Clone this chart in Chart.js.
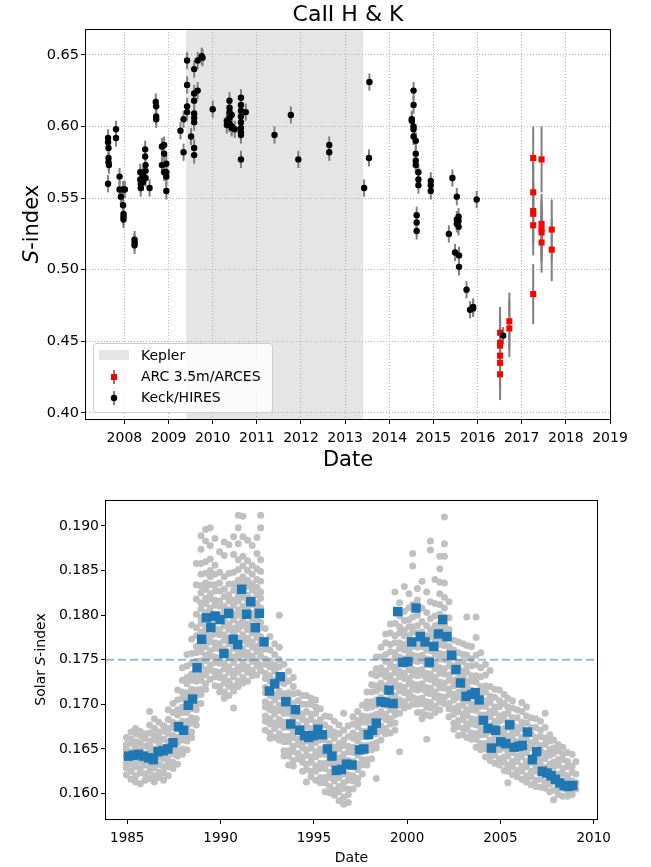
<!DOCTYPE html>
<html>
<head>
<meta charset="utf-8">
<script src="https://cdn.jsdelivr.net/npm/chart.js@4.4.1/dist/chart.umd.min.js"></script>
<style>
  body { margin: 0; background: #fff; }
  canvas { position: absolute; left: 0; }
  #hk { top: 0; }
  #solar { top: 480px; }
</style>
</head>
<body>
<canvas id="hk" width="651" height="480"></canvas>
<canvas id="solar" width="651" height="387"></canvas>
<script>
// ---- top panel: Ca II H & K of the star ----
const keplerSpan = [2009.40, 2013.41];

const keckDates = [
  2007.63, 2007.63, 2007.64, 2007.64, 2007.64, 2007.65, 2007.63,
  2007.81, 2007.81, 2007.89, 2007.89, 2007.92,
  2007.97, 2007.97, 2007.98, 2007.98, 2007.98, 2008.01,
  2008.23, 2008.23, 2008.23,
  2008.36, 2008.36, 2008.37, 2008.37, 2008.42, 2008.42,
  2008.47, 2008.47, 2008.48, 2008.48, 2008.48, 2008.57,
  2008.71, 2008.72, 2008.72, 2008.72,
  2008.85, 2008.85, 2008.90, 2008.90, 2008.90,
  2008.95, 2008.95, 2008.95, 2008.95,
  2009.27, 2009.34, 2009.34,
  2009.42, 2009.42, 2009.42, 2009.42, 2009.51,
  2009.58, 2009.58, 2009.58, 2009.58, 2009.58, 2009.58, 2009.58, 2009.58,
  2009.66, 2009.66, 2009.75, 2009.77, 2010.00,
  2010.32, 2010.32, 2010.38, 2010.38, 2010.38, 2010.38, 2010.38,
  2010.43, 2010.43, 2010.43, 2010.50,
  2010.64, 2010.64, 2010.64, 2010.64, 2010.64, 2010.64, 2010.64, 2010.64, 2010.64,
  2010.75, 2011.40, 2011.77, 2011.94, 2012.64, 2012.64,
  2013.43, 2013.54, 2013.55,
  2014.51, 2014.51, 2014.55, 2014.55, 2014.55, 2014.55, 2014.55,
  2014.60, 2014.60, 2014.60, 2014.60, 2014.66, 2014.66, 2014.66,
  2014.62, 2014.62, 2014.62, 2014.94, 2014.94, 2014.94,
  2015.35, 2015.43, 2015.53, 2015.53, 2015.53, 2015.57, 2015.57, 2015.57,
  2015.49, 2015.58, 2015.58, 2015.75, 2015.83, 2015.90, 2015.90, 2015.98, 2016.58
];
const keckS = [
  0.592, 0.589, 0.585, 0.578, 0.575, 0.573, 0.560,
  0.598, 0.592, 0.565, 0.556, 0.551,
  0.556, 0.545, 0.539, 0.537, 0.535, 0.556,
  0.521, 0.519, 0.517,
  0.568, 0.563, 0.560, 0.557, 0.566, 0.561,
  0.584, 0.579, 0.573, 0.569, 0.564, 0.557,
  0.617, 0.614, 0.607, 0.605,
  0.586, 0.573, 0.587, 0.581, 0.568,
  0.574, 0.568, 0.565, 0.555,
  0.597, 0.605, 0.582,
  0.646, 0.629, 0.614, 0.610, 0.593,
  0.640, 0.623, 0.618, 0.609, 0.606, 0.603, 0.585, 0.580,
  0.646, 0.625, 0.649, 0.648, 0.612,
  0.604, 0.601, 0.618, 0.613, 0.610, 0.606, 0.602,
  0.608, 0.600, 0.599, 0.598,
  0.620, 0.615, 0.611, 0.607, 0.603, 0.599, 0.596, 0.594, 0.577,
  0.610, 0.594, 0.608, 0.577, 0.587, 0.582,
  0.557, 0.578, 0.631,
  0.605, 0.604, 0.625, 0.615, 0.600, 0.598, 0.593,
  0.590, 0.581, 0.576, 0.573, 0.568, 0.563, 0.559,
  0.538, 0.533, 0.527, 0.562, 0.559, 0.555,
  0.525, 0.564, 0.551, 0.535, 0.532, 0.537, 0.534, 0.530,
  0.512, 0.510, 0.502, 0.486, 0.472, 0.474, 0.473, 0.549, 0.454
];
const keckErr = 0.006;

const arcesDates = [
  2016.51, 2016.51, 2016.51, 2016.51, 2016.51, 2016.51,
  2016.72, 2016.72,
  2017.26, 2017.26, 2017.26, 2017.26, 2017.26, 2017.26,
  2017.45, 2017.45, 2017.45, 2017.45, 2017.45,
  2017.68, 2017.68
];
const arcesS = [
  0.456, 0.449, 0.447, 0.440, 0.435, 0.427,
  0.464, 0.459,
  0.578, 0.554, 0.541, 0.539, 0.531, 0.483,
  0.577, 0.532, 0.528, 0.526, 0.519,
  0.528, 0.514
];
const arcesErr = [
  0.018, 0.018, 0.018, 0.018, 0.018, 0.018,
  0.020, 0.020,
  0.022, 0.021, 0.021, 0.021, 0.021, 0.021,
  0.023, 0.021, 0.021, 0.021, 0.021,
  0.021, 0.022
];

// ---- bottom panel: solar S-index ----
const solarMean = 0.175;

// measurements, grouped by epoch: [year, values]
const solarCloud = [
  [1984.95, [.1621, .1629, .1634, .1642, .1650, .1655, .1663]],
  [1985.20, [.1616, .1625, .1633, .1639, .1647, .1656, .1661, .1669]],
  [1985.45, [.1613, .1620, .1630, .1637, .1643, .1652, .1658, .1667, .1673]],
  [1985.70, [.1611, .1623, .1628, .1636, .1645, .1649, .1657, .1665, .1670]],
  [1985.95, [.1615, .1622, .1632, .1640, .1644, .1653, .1662, .1667]],
  [1986.20, [.1617, .1625, .1631, .1638, .1647, .1654, .1659, .1668, .1677, .1692]],
  [1986.45, [.1613, .1620, .1629, .1635, .1644, .1650, .1660, .1665, .1673, .1684]],
  [1986.70, [.1618, .1624, .1633, .1641, .1646, .1656, .1663, .1669, .1680]],
  [1986.95, [.1615, .1623, .1630, .1639, .1647, .1652, .1661, .1670, .1676]],
  [1987.20, [.1620, .1630, .1636, .1643, .1652, .1658, .1667, .1673, .1683, .1694]],
  [1987.45, [.1628, .1635, .1644, .1650, .1659, .1665, .1674, .1680, .1691, .1701]],
  [1987.70, [.1633, .1642, .1648, .1657, .1663, .1672, .1678, .1688, .1694, .1705, .1716]],
  [1987.95, [.1644, .1650, .1660, .1665, .1675, .1681, .1691, .1697, .1707, .1714, .1727, .1741]],
  [1988.20, [.1649, .1659, .1665, .1675, .1681, .1691, .1697, .1707, .1713, .1723, .1730, .1743, .1756]],
  [1988.45, [.1663, .1669, .1679, .1685, .1695, .1701, .1711, .1717, .1727, .1734, .1746, .1757, .1773, .1789]],
  [1988.70, [.1677, .1684, .1694, .1700, .1710, .1716, .1726, .1732, .1742, .1748, .1758, .1765, .1777, .1786, .1801, .1818, .1834, .1858]],
  [1988.95, [.1701, .1711, .1717, .1727, .1733, .1743, .1749, .1759, .1765, .1775, .1781, .1791, .1797, .1807, .1814, .1825, .1833, .1846, .1858, .1874, .1889]],
  [1989.20, [.1717, .1723, .1733, .1739, .1749, .1755, .1765, .1771, .1781, .1787, .1797, .1803, .1813, .1819, .1829, .1836, .1847, .1860, .1883, .1896]],
  [1989.45, [.1728, .1738, .1744, .1754, .1760, .1770, .1776, .1786, .1792, .1802, .1808, .1818, .1824, .1834, .1843, .1850, .1863, .1878, .1898]],
  [1989.70, [.1721, .1731, .1737, .1747, .1753, .1763, .1769, .1779, .1785, .1795, .1801, .1811, .1817, .1827, .1834, .1846, .1856, .1886]],
  [1989.95, [.1714, .1720, .1730, .1736, .1746, .1752, .1762, .1768, .1778, .1784, .1794, .1800, .1810, .1816, .1827, .1836, .1848, .1871]],
  [1990.20, [.1707, .1714, .1724, .1730, .1740, .1746, .1756, .1762, .1772, .1778, .1788, .1794, .1804, .1810, .1821, .1829, .1843, .1867, .1882]],
  [1990.45, [.1710, .1720, .1726, .1736, .1742, .1752, .1758, .1768, .1774, .1784, .1790, .1800, .1806, .1816, .1823, .1835, .1847, .1879]],
  [1990.70, [.1696, .1715, .1721, .1731, .1737, .1747, .1753, .1763, .1769, .1779, .1785, .1795, .1801, .1811, .1817, .1828, .1835, .1848, .1868, .1888]],
  [1990.95, [.1720, .1726, .1736, .1742, .1752, .1758, .1768, .1774, .1784, .1790, .1800, .1806, .1816, .1822, .1832, .1839, .1851, .1862, .1880, .1898, .1912]],
  [1991.20, [.1724, .1730, .1740, .1746, .1756, .1762, .1772, .1778, .1788, .1794, .1804, .1810, .1820, .1826, .1836, .1843, .1855, .1866, .1888, .1911]],
  [1991.45, [.1726, .1736, .1742, .1752, .1758, .1768, .1774, .1784, .1790, .1800, .1806, .1816, .1822, .1832, .1839, .1850, .1861, .1884]],
  [1991.70, [.1732, .1738, .1748, .1754, .1764, .1770, .1780, .1786, .1796, .1802, .1812, .1818, .1828, .1835, .1846, .1856, .1878]],
  [1991.95, [.1733, .1743, .1749, .1759, .1765, .1775, .1781, .1791, .1797, .1807, .1813, .1823, .1831, .1840, .1852, .1869, .1887]],
  [1992.15, [.1738, .1744, .1754, .1760, .1770, .1776, .1786, .1792, .1802, .1808, .1819, .1826, .1838, .1849, .1862, .1898, .1912]],
  [1992.40, [.1671, .1681, .1687, .1697, .1703, .1713, .1719, .1729, .1735, .1745, .1751, .1762, .1770, .1785]],
  [1992.65, [.1662, .1668, .1678, .1684, .1694, .1700, .1710, .1716, .1726, .1732, .1742, .1749, .1761, .1776]],
  [1992.90, [.1663, .1673, .1679, .1689, .1695, .1705, .1711, .1721, .1727, .1737, .1744, .1756, .1768]],
  [1993.15, [.1660, .1667, .1677, .1683, .1693, .1699, .1709, .1715, .1725, .1731, .1742, .1750, .1764, .1800]],
  [1993.40, [.1642, .1648, .1658, .1664, .1674, .1680, .1690, .1696, .1706, .1712, .1723, .1731, .1745]],
  [1993.65, [.1632, .1642, .1648, .1658, .1664, .1674, .1680, .1690, .1696, .1706, .1713, .1726, .1737]],
  [1993.90, [.1631, .1637, .1647, .1653, .1663, .1669, .1679, .1685, .1695, .1701, .1712, .1720, .1730]],
  [1994.15, [.1639, .1645, .1655, .1661, .1671, .1677, .1687, .1693, .1704, .1713]],
  [1994.40, [.1625, .1635, .1641, .1651, .1657, .1667, .1673, .1683, .1689, .1700, .1710]],
  [1994.60, [.1613, .1627, .1633, .1643, .1649, .1659, .1665, .1675, .1681, .1692, .1700, .1710]],
  [1994.85, [.1619, .1625, .1635, .1641, .1651, .1657, .1667, .1673, .1683, .1689, .1700, .1707]],
  [1995.10, [.1615, .1625, .1631, .1641, .1647, .1657, .1663, .1673, .1679, .1690, .1697, .1705]],
  [1995.35, [.1612, .1618, .1628, .1634, .1644, .1650, .1660, .1666, .1676, .1683, .1695]],
  [1995.60, [.1602, .1612, .1618, .1628, .1634, .1644, .1650, .1660, .1666, .1677, .1687]],
  [1995.85, [.1601, .1608, .1618, .1624, .1634, .1640, .1650, .1656, .1666, .1673, .1686]],
  [1996.10, [.1598, .1604, .1614, .1620, .1630, .1636, .1646, .1652, .1662, .1669, .1681]],
  [1996.35, [.1592, .1602, .1608, .1618, .1624, .1634, .1640, .1650, .1656, .1667, .1677]],
  [1996.60, [.1588, .1596, .1606, .1612, .1622, .1628, .1638, .1644, .1654, .1660, .1671, .1690]],
  [1996.85, [.1590, .1599, .1605, .1615, .1621, .1631, .1637, .1647, .1653, .1664, .1676]],
  [1997.10, [.1605, .1614, .1620, .1630, .1636, .1646, .1652, .1662, .1668, .1678, .1686]],
  [1997.35, [.1611, .1617, .1627, .1633, .1643, .1649, .1659, .1665, .1675, .1682, .1692]],
  [1997.60, [.1622, .1632, .1638, .1648, .1654, .1664, .1670, .1680, .1687, .1699]],
  [1997.85, [.1632, .1638, .1648, .1654, .1664, .1670, .1680, .1686, .1696, .1703, .1714]],
  [1998.10, [.1639, .1649, .1655, .1665, .1671, .1681, .1687, .1697, .1703, .1714, .1722, .1734]],
  [1998.35, [.1617, .1651, .1657, .1667, .1673, .1683, .1689, .1699, .1705, .1715, .1721, .1732, .1740, .1753]],
  [1998.60, [.1660, .1670, .1676, .1686, .1692, .1702, .1708, .1718, .1724, .1734, .1741, .1753, .1764]],
  [1998.85, [.1667, .1673, .1683, .1689, .1699, .1705, .1715, .1721, .1731, .1737, .1748, .1756, .1769, .1779]],
  [1999.10, [.1668, .1678, .1684, .1694, .1700, .1710, .1716, .1726, .1732, .1742, .1748, .1759, .1767, .1780, .1790]],
  [1999.35, [.1671, .1679, .1688, .1694, .1704, .1710, .1720, .1726, .1736, .1742, .1752, .1758, .1769, .1777, .1791, .1826]],
  [1999.60, [.1647, .1690, .1699, .1705, .1715, .1721, .1731, .1737, .1747, .1753, .1763, .1769, .1780, .1787, .1799, .1814]],
  [1999.85, [.1696, .1703, .1713, .1719, .1729, .1735, .1745, .1751, .1761, .1767, .1777, .1783, .1794, .1804, .1832]],
  [2000.10, [.1698, .1707, .1713, .1723, .1729, .1739, .1745, .1755, .1761, .1771, .1777, .1787, .1795, .1808, .1824]],
  [2000.30, [.1700, .1708, .1717, .1723, .1733, .1739, .1749, .1755, .1765, .1771, .1781, .1787, .1798, .1812, .1855, .1869]],
  [2000.55, [.1691, .1700, .1706, .1716, .1722, .1732, .1738, .1748, .1754, .1764, .1770, .1780, .1788, .1800, .1817, .1830]],
  [2000.80, [.1684, .1691, .1701, .1707, .1717, .1723, .1733, .1739, .1749, .1755, .1765, .1771, .1781, .1793, .1808, .1838]],
  [2001.05, [.1661, .1688, .1697, .1703, .1713, .1719, .1729, .1735, .1745, .1751, .1761, .1767, .1777, .1788, .1803, .1826]],
  [2001.25, [.1687, .1696, .1702, .1712, .1718, .1728, .1734, .1744, .1750, .1760, .1766, .1776, .1784, .1796, .1815, .1873, .1883]],
  [2001.50, [.1691, .1698, .1708, .1714, .1724, .1730, .1740, .1746, .1756, .1762, .1772, .1778, .1788, .1799, .1813, .1840]],
  [2001.75, [.1694, .1703, .1709, .1719, .1725, .1735, .1741, .1751, .1757, .1767, .1773, .1783, .1791, .1801, .1812, .1824, .1837, .1852, .1866]],
  [2002.00, [.1701, .1708, .1718, .1724, .1734, .1740, .1750, .1756, .1766, .1772, .1782, .1788, .1798, .1808, .1820, .1836, .1866, .1880, .1910]],
  [2002.25, [.1686, .1695, .1701, .1711, .1717, .1727, .1733, .1743, .1749, .1759, .1765, .1774, .1784, .1797, .1815]],
  [2002.50, [.1672, .1679, .1689, .1695, .1705, .1711, .1721, .1727, .1737, .1743, .1753, .1761, .1772]],
  [2002.75, [.1665, .1675, .1682, .1692, .1698, .1708, .1714, .1724, .1730, .1740, .1747, .1758, .1770]],
  [2003.00, [.1666, .1673, .1683, .1689, .1699, .1705, .1715, .1721, .1731, .1737, .1748, .1756, .1768]],
  [2003.20, [.1663, .1672, .1678, .1688, .1694, .1704, .1710, .1720, .1726, .1736, .1743, .1755, .1766, .1798]],
  [2003.45, [.1661, .1668, .1678, .1684, .1694, .1700, .1710, .1716, .1726, .1732, .1743, .1751, .1765]],
  [2003.70, [.1652, .1661, .1667, .1677, .1683, .1693, .1699, .1709, .1715, .1725, .1732, .1744, .1755, .1775, .1798]],
  [2003.95, [.1649, .1656, .1666, .1672, .1682, .1688, .1698, .1704, .1714, .1720, .1731, .1741, .1758]],
  [2004.20, [.1641, .1650, .1656, .1666, .1672, .1682, .1688, .1698, .1704, .1714, .1721, .1733, .1745]],
  [2004.45, [.1637, .1644, .1654, .1660, .1670, .1676, .1686, .1692, .1702, .1709, .1720, .1738]],
  [2004.70, [.1634, .1643, .1649, .1659, .1665, .1675, .1681, .1691, .1697, .1708, .1717]],
  [2004.95, [.1632, .1639, .1649, .1655, .1665, .1671, .1681, .1687, .1697, .1704, .1716]],
  [2005.20, [.1626, .1635, .1641, .1651, .1657, .1667, .1673, .1683, .1689, .1701, .1711]],
  [2005.40, [.1612, .1625, .1632, .1642, .1648, .1658, .1664, .1674, .1680, .1690, .1697, .1707]],
  [2005.65, [.1621, .1630, .1636, .1646, .1652, .1662, .1668, .1678, .1685, .1696, .1704]],
  [2005.90, [.1619, .1626, .1636, .1642, .1652, .1658, .1668, .1674, .1685, .1694]],
  [2006.15, [.1616, .1625, .1631, .1641, .1647, .1657, .1663, .1673, .1680, .1692, .1702]],
  [2006.40, [.1613, .1620, .1630, .1636, .1646, .1652, .1662, .1668, .1679, .1687, .1697]],
  [2006.65, [.1610, .1619, .1625, .1635, .1641, .1651, .1657, .1667, .1674, .1685]],
  [2006.90, [.1608, .1615, .1625, .1631, .1641, .1647, .1657, .1663, .1674, .1684]],
  [2007.15, [.1607, .1616, .1622, .1632, .1638, .1648, .1654, .1664, .1671, .1681]],
  [2007.40, [.1606, .1613, .1623, .1629, .1639, .1645, .1655, .1662, .1674, .1690]],
  [2007.65, [.1602, .1611, .1617, .1627, .1633, .1643, .1649, .1659, .1666]],
  [2007.85, [.1593, .1604, .1613, .1619, .1629, .1635, .1645, .1651, .1660]],
  [2008.10, [.1599, .1606, .1616, .1622, .1632, .1638, .1648, .1655]],
  [2008.35, [.1597, .1606, .1612, .1622, .1628, .1638, .1644, .1652]],
  [2008.60, [.1597, .1604, .1614, .1620, .1630, .1636, .1646]],
  [2008.85, [.1599, .1608, .1614, .1624, .1631, .1644]],
  [2009.05, [.1605, .1612, .1622, .1636]]
];

// binned means (blue squares)
const solarBinDates = [
  1985.06, 1985.33, 1985.60, 1985.87, 1986.14, 1986.40, 1986.65, 1986.92, 1987.18, 1987.45,
  1987.75, 1988.02, 1988.27, 1988.50, 1988.74, 1988.99, 1989.24, 1989.48, 1989.71, 1989.97,
  1990.18, 1990.44, 1990.68, 1990.92, 1991.13, 1991.40, 1991.62, 1991.86, 1992.08, 1992.33,
  1992.62, 1992.90, 1993.20, 1993.50, 1993.76, 1994.01, 1994.24, 1994.50, 1994.73, 1994.96,
  1995.22, 1995.46, 1995.73, 1995.97, 1996.21, 1996.48, 1996.75, 1997.05, 1997.45, 1997.68,
  1997.92, 1998.14, 1998.35, 1998.60, 1998.83, 1999.03, 1999.25, 1999.50, 1999.77, 2000.04,
  2000.25, 2000.48, 2000.71, 2000.96, 2001.19, 2001.43, 2001.68, 2001.91, 2002.14, 2002.39,
  2002.62, 2002.86, 2003.16, 2003.45, 2003.65, 2003.86, 2004.09, 2004.34, 2004.52, 2004.75,
  2005.02, 2005.29, 2005.50, 2005.73, 2005.97, 2006.18, 2006.45, 2006.72, 2006.95, 2007.25,
  2007.50, 2007.72, 2007.95, 2008.18, 2008.42, 2008.65, 2008.88
];
const solarBinS = [
  0.1642, 0.1643, 0.1644, 0.1642, 0.1640, 0.1638, 0.1647, 0.1648, 0.1650, 0.1657,
  0.1675, 0.1671, 0.1699, 0.1706, 0.1741, 0.1773, 0.1797, 0.1786, 0.1799, 0.1795,
  0.1757, 0.1802, 0.1773, 0.1767, 0.1829, 0.1801, 0.1815, 0.1786, 0.1802, 0.1770,
  0.1715, 0.1723, 0.1731, 0.1703, 0.1678, 0.1694, 0.1671, 0.1665, 0.1663, 0.1665,
  0.1672, 0.1666, 0.1650, 0.1642, 0.1626, 0.1627, 0.1633, 0.1632, 0.1649, 0.1650,
  0.1666, 0.1671, 0.1679, 0.1703, 0.1702, 0.1716, 0.1701, 0.1804, 0.1747, 0.1748,
  0.1770, 0.1808, 0.1776, 0.1770, 0.1747, 0.1765, 0.1779, 0.1795, 0.1776, 0.1755,
  0.1739, 0.1724, 0.1709, 0.1711, 0.1713, 0.1705, 0.1682, 0.1673, 0.1651, 0.1671,
  0.1658, 0.1656, 0.1677, 0.1652, 0.1653, 0.1654, 0.1669, 0.1638, 0.1647, 0.1625,
  0.1623, 0.1620, 0.1616, 0.1612, 0.1609, 0.1608, 0.1609
];

// axis limits
const hkX = [2007.13, 2019.0], hkY = [0.3958, 0.668];
const solX = [1983.86, 2010.18], solY = [0.15715, 0.19291];

Chart.defaults.font.family = "'DejaVu Sans', sans-serif";
Chart.defaults.color = '#000';

// helpers
const frame = {
  id: 'frame',
  afterDatasetsDraw(chart) {
    const { ctx, chartArea: a } = chart;
    ctx.save();
    ctx.strokeStyle = '#000';
    ctx.lineWidth = 1;
    ctx.strokeRect(Math.round(a.left) - 0.5, Math.round(a.top) + 0.5,
      Math.round(a.right - a.left) + 1, Math.round(a.bottom - a.top));
    ctx.restore();
  }
};

const errorBars = {
  id: 'errorBars',
  beforeDatasetsDraw(chart) {
    const { ctx, scales: { x, y } } = chart;
    chart.data.datasets.forEach(ds => {
      if (!ds.errors) return;
      ctx.save();
      ctx.strokeStyle = '#808080';
      ctx.lineWidth = 2;
      ds.data.forEach((p, i) => {
        const px = x.getPixelForValue(p.x);
        ctx.beginPath();
        ctx.moveTo(px, y.getPixelForValue(p.y - ds.errors[i]));
        ctx.lineTo(px, y.getPixelForValue(p.y + ds.errors[i]));
        ctx.stroke();
      });
      ctx.restore();
    });
  }
};

const keplerShade = {
  id: 'keplerShade',
  beforeDraw(chart) {
    const { ctx, chartArea: a, scales: { x } } = chart;
    const x0 = x.getPixelForValue(keplerSpan[0]);
    const x1 = x.getPixelForValue(keplerSpan[1]);
    ctx.save();
    ctx.fillStyle = '#e5e5e5';
    ctx.fillRect(x0, a.top, x1 - x0, a.bottom - a.top);
    ctx.restore();
  }
};

// text with an italic "S"
function drawSIndex(ctx, before, after, size, x, y, rotate) {
  ctx.save();
  ctx.translate(x, y);
  if (rotate) ctx.rotate(-Math.PI / 2);
  const normal = size + "px 'DejaVu Sans'";
  const italic = 'italic ' + normal;
  ctx.font = normal;
  const w1 = ctx.measureText(before).width, w3 = ctx.measureText(after).width;
  ctx.font = italic;
  const w2 = ctx.measureText('S').width;
  let cx = -(w1 + w2 + w3) / 2;
  ctx.fillStyle = '#000';
  ctx.textBaseline = 'alphabetic';
  ctx.textAlign = 'left';
  ctx.font = normal; ctx.fillText(before, cx, 0); cx += w1;
  ctx.font = italic; ctx.fillText('S', cx, 0); cx += w2;
  ctx.font = normal; ctx.fillText(after, cx, 0);
  ctx.restore();
}

const hkText = {
  id: 'hkText',
  afterDraw(chart) {
    const { ctx, chartArea: a } = chart;
    const cx = (a.left + a.right) / 2;
    ctx.save();
    ctx.fillStyle = '#000';
    ctx.textAlign = 'center';
    ctx.textBaseline = 'alphabetic';
    ctx.font = "22px 'DejaVu Sans'";
    ctx.fillText('CaII H & K', cx, 21);
    ctx.font = "21px 'DejaVu Sans'";
    ctx.fillText('Date', cx, 466);
    ctx.restore();
    drawSIndex(ctx, '', '-index', 21, 38, (a.top + a.bottom) / 2, true);

    // legend
    ctx.save();
    ctx.fillStyle = 'rgba(255,255,255,0.8)';
    ctx.strokeStyle = '#cccccc';
    ctx.lineWidth = 1;
    ctx.beginPath();
    ctx.roundRect(93.5, 343.5, 179, 69, 3);
    ctx.fill(); ctx.stroke();
    ctx.fillStyle = '#e5e5e5';
    ctx.fillRect(99, 350, 30, 10);
    ctx.strokeStyle = '#808080';
    ctx.lineWidth = 2;
    ctx.beginPath(); ctx.moveTo(114, 370); ctx.lineTo(114, 384); ctx.stroke();
    ctx.beginPath(); ctx.moveTo(114, 391); ctx.lineTo(114, 405); ctx.stroke();
    ctx.fillStyle = '#ff0000';
    ctx.fillRect(111, 374, 6, 6);
    ctx.fillStyle = '#000';
    ctx.beginPath(); ctx.arc(114, 398, 3.2, 0, Math.PI * 2); ctx.fill();
    ctx.font = "14px 'DejaVu Sans'";
    ctx.textBaseline = 'middle';
    ctx.textAlign = 'left';
    ctx.fillText('Kepler', 141, 356);
    ctx.fillText('ARC 3.5m/ARCES', 141, 377);
    ctx.fillText('Keck/HIRES', 141, 398);
    ctx.restore();
  }
};

const solarText = {
  id: 'solarText',
  afterDraw(chart) {
    const { ctx, chartArea: a } = chart;
    ctx.save();
    ctx.fillStyle = '#000';
    ctx.textAlign = 'center';
    ctx.textBaseline = 'alphabetic';
    ctx.font = "14px 'DejaVu Sans'";
    ctx.fillText('Date', (a.left + a.right) / 2, 382);
    ctx.restore();
    drawSIndex(ctx, 'Solar ', '-index', 14, 45, (a.top + a.bottom) / 2, true);
  }
};

function axisOpts(lim, step, digits, fontSize, tickPad, fit, grid) {
  return {
    type: 'linear',
    min: lim[0], max: lim[1],
    afterFit: fit,
    ticks: {
      stepSize: step, includeBounds: false, autoSkip: false, maxRotation: 0,
      padding: tickPad, color: '#000', font: { size: fontSize },
      callback: v => digits === 0 ? String(v) : Number(v).toFixed(digits)
    },
    grid: {
      display: true, drawOnChartArea: grid, drawTicks: true,
      color: '#a0a0a0', lineWidth: 0.8,
      tickLength: 5, tickColor: '#000', tickWidth: 1, tickBorderDash: []
    },
    border: { display: false, dash: [1, 2] }
  };
}

// ---- top chart ----
new Chart(document.getElementById('hk'), {
  type: 'scatter',
  data: {
    datasets: [
      {
        label: 'Keck/HIRES',
        data: keckDates.map((d, i) => ({ x: d, y: keckS[i] })),
        errors: keckS.map(() => keckErr),
        pointStyle: 'circle', pointRadius: 3.2,
        backgroundColor: '#000', borderWidth: 0
      },
      {
        label: 'ARC 3.5m/ARCES',
        data: arcesDates.map((d, i) => ({ x: d, y: arcesS[i] })),
        errors: arcesErr,
        pointStyle: 'rect', pointRadius: 4.3,
        backgroundColor: '#ff0000', borderWidth: 0
      }
    ]
  },
  options: {
    responsive: false, animation: false, events: [],
    layout: { padding: { left: 0, right: 41, top: 29, bottom: 0 } },
    plugins: { legend: { display: false }, tooltip: { enabled: false } },
    scales: {
      x: axisOpts(hkX, 1, 0, 14, 6, s => { s.height = 61; }, true),
      y: axisOpts(hkY, 0.05, 2, 14.5, 2, s => { s.width = 86; }, true)
    }
  },
  plugins: [keplerShade, errorBars, frame, hkText]
});

// ---- bottom chart ----
new Chart(document.getElementById('solar'), {
  type: 'scatter',
  data: {
    datasets: [
      {
        label: 'binned',
        order: 1,
        data: solarBinDates.map((d, i) => ({ x: d, y: solarBinS[i] })),
        pointStyle: 'rect', pointRadius: 6.7,
        backgroundColor: '#1f77b4', borderWidth: 0
      },
      {
        label: 'mean',
        order: 2,
        showLine: true,
        data: [{ x: solX[0], y: solarMean }, { x: solX[1], y: solarMean }],
        pointRadius: 0,
        borderColor: 'rgba(31,119,180,0.5)', borderWidth: 2, borderDash: [8, 4]
      },
      {
        label: 'daily',
        order: 3,
        data: solarCloud.flatMap(([yr, vals]) => vals.map(v => ({ x: yr, y: v }))),
        pointStyle: 'circle', pointRadius: 3.5,
        backgroundColor: '#c0c0c0', borderWidth: 0
      }
    ]
  },
  options: {
    responsive: false, animation: false, events: [],
    layout: { padding: { left: 0, right: 54, top: 20, bottom: 0 } },
    plugins: { legend: { display: false }, tooltip: { enabled: false } },
    scales: {
      x: axisOpts(solX, 5, 0, 13.5, 6, s => { s.height = 48; }, false),
      y: axisOpts(solY, 0.005, 3, 14, 2, s => { s.width = 106; }, false)
    }
  },
  plugins: [frame, solarText]
});
</script>
</body>
</html>
